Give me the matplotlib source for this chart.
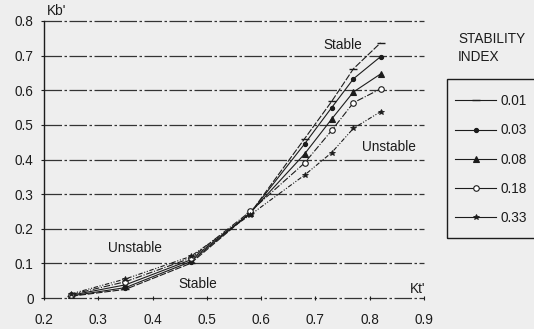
import matplotlib
matplotlib.use("Agg")
import matplotlib.pyplot as plt
from matplotlib.patches import Rectangle
from matplotlib.lines import Line2D

plt.rcParams['font.family'] = ['Liberation Sans', 'DejaVu Sans']

# Clearness index Kt' (x) vs beam index Kb' (y) for each stability index
kt = [0.25, 0.35, 0.47, 0.58, 0.68, 0.73, 0.77, 0.82]
kb_001 = [0.005, 0.025, 0.100, 0.245, 0.460, 0.568, 0.662, 0.737]
kb_003 = [0.006, 0.030, 0.105, 0.245, 0.445, 0.550, 0.633, 0.697]
kb_008 = [0.008, 0.038, 0.110, 0.246, 0.416, 0.517, 0.595, 0.647]
kb_018 = [0.010, 0.047, 0.115, 0.250, 0.390, 0.484, 0.564, 0.604]
kb_033 = [0.012, 0.055, 0.120, 0.240, 0.355, 0.420, 0.490, 0.538]

stability = ['0.01', '0.03', '0.08', '0.18', '0.33']
x_ticks = [0.2, 0.3, 0.4, 0.5, 0.6, 0.7, 0.8, 0.9]
y_ticks = [0, 0.1, 0.2, 0.3, 0.4, 0.5, 0.6, 0.7, 0.8]
y_labels = ['0', '0.1', '0.2', '0.3', '0.4', '0.5', '0.6', '0.7', '0.8']

ink = '#1c1c1c'
bg = '#eeeeee'
fs = 9.8

fig = plt.figure(figsize=(5.34, 3.29), dpi=100, facecolor=bg)
ax = fig.add_axes([44/534, 1-298/329, (424-44)/534, (298-21)/329])
ax.set_facecolor(bg)

styles = [
    dict(marker='_', ms=6, mew=1.0, ls=(0, (6, 1.5)), mfc=ink),
    dict(marker='o', ms=3, mew=0.8, ls='-', mfc=ink),
    dict(marker='^', ms=4, mew=0.8, ls='-', mfc=ink),
    dict(marker='o', ms=4, mew=0.8, ls=(0, (6, 1.5, 1, 1.5)), mfc='white'),
    dict(marker='*', ms=4, mew=0.6, ls=(0, (4, 1.5, 1, 1.5, 1, 1.5)), mfc=ink),
]
series = [kb_001, kb_003, kb_008, kb_018, kb_033]
handles = []
for vals, st, lab in zip(series, styles, stability):
    ax.plot(kt, vals, color=ink, lw=0.8, mec=ink, label=lab, **st)
    handles.append(Line2D([], [], color=ink, lw=0.8, ls='-', marker=st['marker'],
                          ms=st['ms'], mew=st['mew'], mfc=st['mfc'], mec=ink))

# horizontal dash-dot grid
for y in y_ticks:
    ax.plot([0.2, 0.9], [y, y], color='#333333', lw=0.9,
            ls=(0, (14, 2, 2, 2)), zorder=0.5, clip_on=False)

ax.set_xlim(0.2, 0.9)
ax.set_ylim(0, 0.8)
for s in ['top', 'right', 'bottom']:
    ax.spines[s].set_visible(False)
ax.spines['left'].set_color(ink)
ax.spines['left'].set_linewidth(1.0)

ax.set_xticks(x_ticks)
ax.set_xticklabels([f'{v:.1f}' for v in x_ticks])
ax.set_yticks(y_ticks)
ax.set_yticklabels(y_labels)
ax.tick_params(axis='y', length=2.5, width=0.8, color=ink, labelsize=fs,
               labelcolor=ink, pad=5)
ax.tick_params(axis='x', length=3, width=0.8, color=ink, labelsize=fs,
               labelcolor=ink, pad=9, direction='inout')

ax.text(0.205, 0.83, "Kb'", fontsize=fs, color=ink, ha='left', va='center')
ax.text(0.888, 0.025, "Kt'", fontsize=fs, color=ink, ha='center', va='center')

ax.text(0.75, 0.73, 'Stable', fontsize=fs, color=ink, ha='center', va='center')
ax.text(0.835, 0.436, 'Unstable', fontsize=fs, color=ink, ha='center', va='center')
ax.text(0.367, 0.145, 'Unstable', fontsize=fs, color=ink, ha='center', va='center')
ax.text(0.483, 0.040, 'Stable', fontsize=fs, color=ink, ha='center', va='center')

# legend
fig.text(458/534, 1-39/329, 'STABILITY', fontsize=fs, color=ink, ha='left', va='center')
fig.text(458/534, 1-57/329, 'INDEX', fontsize=fs, color=ink, ha='left', va='center')
fig.patches.append(Rectangle((447/534, 1-238/329), 100/534, (238-79)/329,
                             transform=fig.transFigure, fill=False,
                             edgecolor=ink, lw=1.0))
fig.legend(handles, stability, loc='upper left',
           bbox_to_anchor=(443/534, 1-82/329), bbox_transform=fig.transFigure,
           frameon=False, fontsize=fs, handlelength=3.0, handletextpad=0.3,
           labelspacing=1.12, labelcolor=ink)

fig.savefig('out.png', dpi=100, facecolor=bg)
